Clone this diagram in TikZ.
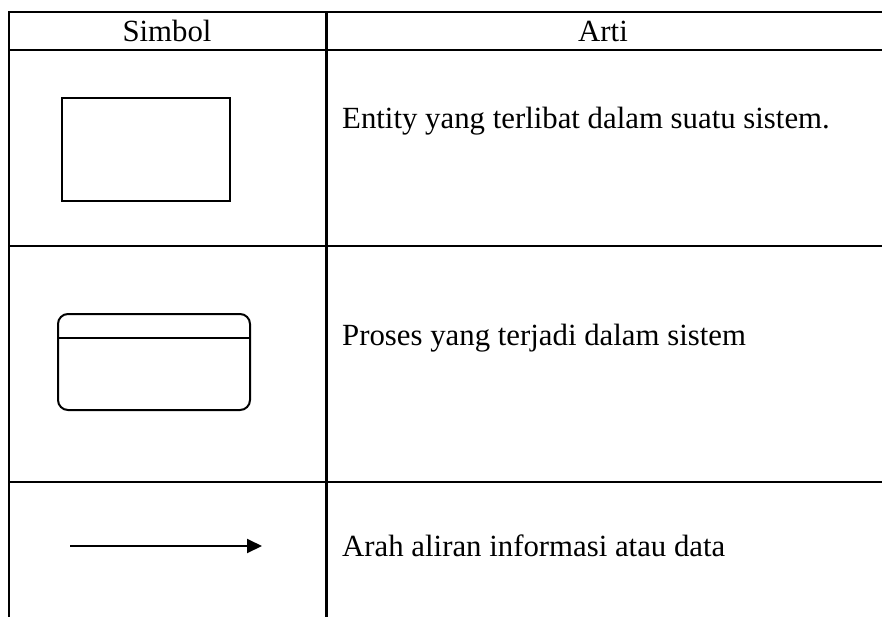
\documentclass[tikz,border=0pt]{standalone}
\usepackage{fontspec}
\setmainfont{Liberation Serif}
\usetikzlibrary{arrows.meta}
\begin{document}
\begin{tikzpicture}[x=1pt,y=-1pt,
  rule/.style={line width=2.6pt},
  symline/.style={line width=2pt},
  cell/.style={font=\fontsize{30.8}{36}\selectfont, inner sep=0pt},
  desc/.style={cell, anchor=west}]
\useasboundingbox (0,0) rectangle (882,617);
% table grid (open on the right and at the bottom)
\draw[rule] (882,12) -- (9,12) -- (9,617);
\draw[rule] (9,50) -- (882,50);
\draw[rule] (326.5,12) -- (326.5,617);
\draw[rule] (9,246) -- (882,246);
\draw[rule] (9,482) -- (882,482);
% header
\node[cell] (hsym) at (167,31) {Simbol};
\node[cell] (harti) at (603,31) {Arti};
% row 1: external entity
\node[symline, draw, minimum width=168pt, minimum height=103pt, inner sep=0pt] (entity) at (146,150) {};
\node[desc] (d1) at (342,121) {Entity yang terlibat dalam suatu sistem.};
% row 2: process
\node[symline, draw, rounded corners=10pt, minimum width=192pt, minimum height=96pt, inner sep=0pt] (proc) at (154,362) {};
\draw[symline] (proc.west |- 0,337.7) -- (proc.east |- 0,337.7);
\node[desc] (d2) at (342,338) {Proses yang terjadi dalam sistem};
% row 3: data flow
\coordinate (fa) at (70,546);
\coordinate (fb) at (262,546);
\draw[symline, -{Triangle[length=15pt,width=14pt]}] (fa) -- (fb);
\node[desc] (d3) at (342,546) {Arah aliran informasi atau data};
\end{tikzpicture}
\end{document}
